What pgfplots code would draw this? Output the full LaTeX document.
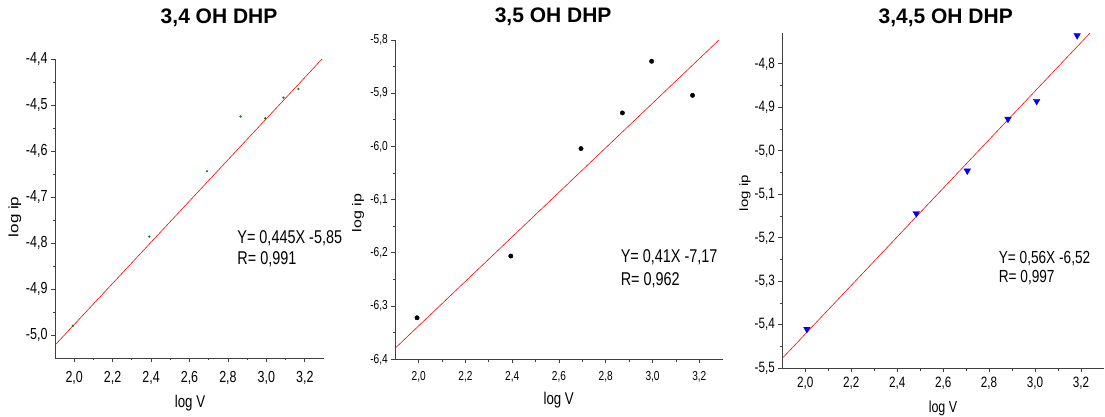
\documentclass[border=0pt]{standalone}
\usepackage{graphicx}
\usepackage{fontspec}
\setmainfont{Liberation Sans}
\usepackage{pgfplots}
\pgfplotsset{compat=1.18}

% the source figure is squeezed horizontally
\newcommand{\nar}[1]{\scalebox{0.78}[1]{#1}}
\definecolor{dkgreen}{RGB}{0,128,0}

\pgfplotsset{
  panel/.style={
    scale only axis,
    clip mode=individual,
    axis lines*=left,
    tick align=outside,
    axis line style={black!75, line width=0.8pt},
    every tick/.style={black!75, line width=0.8pt},
    major tick length=4pt,
    minor tick length=2.5pt,
    xmin=1.9, xmax=3.3,
    xtick={2,2.2,2.4,2.6,2.8,3,3.2},
    minor x tick num=1,
    minor y tick num=1,
    /pgf/number format/.cd, use comma, fixed, fixed zerofill, precision=1,
      assume math mode=true,
    /pgfplots/.cd,
    xticklabel={\nar{\pgfmathprintnumber{\tick}}},
    yticklabel={\nar{\pgfmathprintnumber{\tick}}},
    title style={font=\fontsize{21}{21}\selectfont\bfseries, anchor=center},
    xlabel style={anchor=center},
    ylabel style={anchor=center},
  },
  fit/.style={red, line width=0.6pt, no marks},
}

\begin{document}
\begin{tikzpicture}
\useasboundingbox (0,0) rectangle (1105pt,417pt);

% ---- 3,4 OH DHP
\begin{axis}[panel,
  at={(55pt,59pt)}, anchor=south west,
  width=269pt, height=299pt,
  ymin=-5.05, ymax=-4.4,
  ytick={-5,-4.9,-4.8,-4.7,-4.6,-4.5,-4.4},
  tick label style={font=\fontsize{16}{16}\selectfont},
  xticklabel style={yshift=-6pt},
  title={3,4 OH DHP},
  title style={at={(axis description cs:0.61,1.117)}},
  xlabel={\nar{log V}},
  xlabel style={at={(axis description cs:0.502,-0.150)}, font=\fontsize{17}{17}\selectfont},
  ylabel={\scalebox{1}[0.8]{log ip}},
  ylabel style={at={(axis description cs:-0.149,0.472)}, font=\fontsize{17}{17}\selectfont},
]
\addplot[fit] coordinates {(1.9,-5.022) (3.29,-4.40)};
\addplot[only marks, mark=*, mark size=0.9pt, dkgreen] coordinates {
  (1.993,-4.980) (2.391,-4.786) (2.691,-4.644) (2.866,-4.525)
  (2.994,-4.529) (3.089,-4.484) (3.167,-4.465)
};
\node[anchor=west, font=\fontsize{18.5}{18.5}\selectfont] at (axis description cs:0.665,0.401) {\nar{Y= 0,445X -5,85}};
\node[anchor=west, font=\fontsize{18.5}{18.5}\selectfont] at (axis description cs:0.665,0.331) {\nar{R= 0,991}};
\end{axis}

% ---- 3,5 OH DHP
\begin{axis}[panel,
  at={(395.3pt,57.7pt)}, anchor=south west,
  width=327.4pt, height=319.3pt,
  ymin=-6.4, ymax=-5.8,
  ytick={-6.4,-6.3,-6.2,-6.1,-6,-5.9,-5.8},
  tick label style={font=\fontsize{13}{13}\selectfont},
  xticklabel style={yshift=-5pt},
  title={3,5 OH DHP},
  title style={at={(axis description cs:0.482,1.053)}},
  xlabel={\nar{log V}},
  xlabel style={at={(axis description cs:0.499,-0.127)}, font=\fontsize{17}{17}\selectfont},
  ylabel={\scalebox{1}[0.8]{log ip}},
  ylabel style={at={(axis description cs:-0.114,0.458)}, font=\fontsize{16}{16}\selectfont},
]
\addplot[fit] coordinates {(1.9,-6.379) (3.284,-5.8)};
\addplot[only marks, mark=*, mark size=2.2pt, black] coordinates {
  (1.993,-6.322) (2.394,-6.206) (2.694,-6.004) (2.871,-5.937)
  (2.996,-5.840) (3.171,-5.904)
};
\node[anchor=west, font=\fontsize{18.5}{18.5}\selectfont] at (axis description cs:0.678,0.320) {\nar{Y= 0,41X -7,17}};
\node[anchor=west, font=\fontsize{18.5}{18.5}\selectfont] at (axis description cs:0.678,0.248) {\nar{R= 0,962}};
\end{axis}

% ---- 3,4,5 OH DHP
\begin{axis}[panel,
  at={(782.3pt,48.7pt)}, anchor=south west,
  width=321.7pt, height=335pt,
  ymin=-5.5, ymax=-4.73,
  ytick={-5.5,-5.4,-5.3,-5.2,-5.1,-5,-4.9,-4.8},
  tick label style={font=\fontsize{15}{15}\selectfont},
  xticklabel style={yshift=-1pt},
  title={3,4,5 OH DHP},
  title style={at={(axis description cs:0.508,1.028)}},
  xlabel={\nar{log V}},
  xlabel style={at={(axis description cs:0.4995,-0.1185)}, font=\fontsize{16}{16}\selectfont},
  ylabel={\scalebox{1}[0.8]{log ip}},
  ylabel style={at={(axis description cs:-0.116,0.523)}, font=\fontsize{15}{15}\selectfont},
]
\addplot[fit] coordinates {(1.9,-5.477) (3.238,-4.73)};
\addplot[only marks, mark=triangle*, mark size=3.8pt, blue,
  every mark/.append style={rotate=180}] coordinates {
  (2.007,-5.410) (2.483,-5.144) (2.705,-5.046) (2.882,-4.927)
  (3.007,-4.886) (3.183,-4.735)
};
\node[anchor=west, font=\fontsize{17.5}{17.5}\selectfont] at (axis description cs:0.662,0.329) {\nar{Y= 0,56X -6,52}};
\node[anchor=west, font=\fontsize{17.5}{17.5}\selectfont] at (axis description cs:0.662,0.270) {\nar{R= 0,997}};
\end{axis}
\end{tikzpicture}
\end{document}
